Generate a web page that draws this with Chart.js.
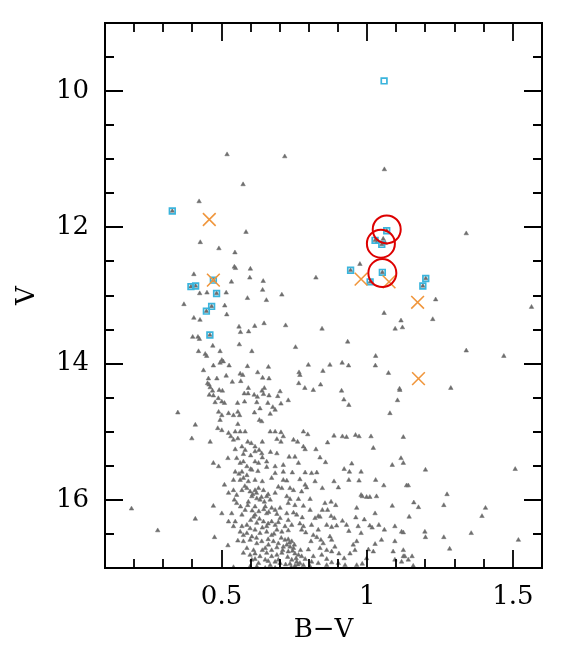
<!DOCTYPE html>
<html>
<head>
<meta charset="utf-8">
<script src="https://cdn.jsdelivr.net/npm/chart.js@4.4.1/dist/chart.umd.min.js"></script>
<style>
  body { margin: 0; background: #fff; }
  #wrap { width: 572px; height: 656px; }
</style>
</head>
<body>
<div id="wrap"><canvas id="cmd" width="572" height="656"></canvas></div>
<script>
// field stars, [B-V, V]
const fieldStars = [
  [0.519,10.93],[0.717,10.96],[1.059,11.15],[0.574,11.37],[0.423,11.62],[0.331,11.76],
  [0.584,12.07],[0.427,12.22],[0.491,12.31],[0.546,12.37],[0.544,12.58],[0.548,12.60],[0.599,12.61],
  [0.405,12.69],[0.597,12.74],[0.534,12.80],[0.643,12.79],[0.824,12.74],[0.472,12.775],
  [0.395,12.87],[0.411,12.86],[0.483,12.97],[0.466,13.16],[0.448,13.23],[0.46,13.58],
  [0.425,12.97],[0.45,12.96],[0.516,12.96],[0.641,12.92],[0.707,12.99],[0.589,13.04],[0.654,13.07],
  [0.371,13.13],[0.511,13.15],[0.405,13.33],[0.426,13.36],[0.518,13.28],[0.56,13.46],[0.614,13.45],
  [0.646,13.41],[0.565,13.54],[0.593,13.53],[0.72,13.44],[0.845,13.49],[0.401,13.61],[0.419,13.61],
  [0.424,13.64],[0.47,13.74],[0.561,13.72],[0.754,13.76],[0.933,13.68],
  [1.067,12.05],[1.027,12.19],[1.05,12.25],[1.055,12.17],[1.035,12.21],[1.062,12.23],
  [0.943,12.63],[1.01,12.80],[1.052,12.66],[1.201,12.75],[1.191,12.86],
  [1.34,12.09],[0.975,12.54],[1.235,13.06],[1.564,13.17],[1.058,13.26],[1.116,13.37],[1.225,13.35],
  [1.096,13.49],[1.121,13.47],[1.34,13.81],[1.469,13.89],[1.287,14.36],[1.111,14.37],
  // 13.8 - 14.55
  [0.421,13.82],[0.444,13.86],[0.449,13.89],[0.495,13.82],[0.501,13.95],[0.495,13.99],[0.506,13.97],
  [0.472,14.03],[0.526,14.03],[0.438,14.10],[0.604,13.82],[0.589,14.04],[0.661,14.05],[0.624,14.13],
  [0.564,14.15],[0.798,14.02],[0.872,14.02],[0.914,13.99],[0.936,14.03],[0.848,14.11],[0.766,14.13],
  [0.769,14.17],[1.029,13.89],[1.028,14.03],[1.073,14.14],
  [0.455,14.22],[0.452,14.29],[0.457,14.31],[0.461,14.35],[0.484,14.22],[0.516,14.18],[0.537,14.27],
  [0.566,14.26],[0.573,14.17],[0.641,14.21],[0.663,14.22],[0.592,14.36],[0.647,14.36],[0.639,14.40],
  [0.458,14.46],[0.472,14.47],[0.492,14.39],[0.503,14.40],[0.469,14.40],[0.489,14.51],[0.765,14.29],
  [0.786,14.36],[0.815,14.39],[0.840,14.31],[0.912,14.40],[0.920,14.53],[0.578,14.44],
  [0.591,14.44],[0.612,14.46],[0.623,14.49],[0.644,14.45],[0.663,14.47],[0.701,14.41],[0.693,14.48],
  [0.729,14.54],[1.112,14.39],[1.104,14.54],
  // 14.55 - 15.3
  [0.478,14.57],[0.501,14.56],[0.510,14.58],[0.555,14.58],[0.579,14.56],[0.621,14.57],[0.632,14.66],
  [0.659,14.58],[0.676,14.64],[0.704,14.59],[0.490,14.71],[0.501,14.76],[0.524,14.73],[0.541,14.76],
  [0.556,14.71],[0.562,14.76],[0.613,14.72],[0.630,14.83],[0.638,14.85],[0.667,14.74],[0.684,14.68],
  [0.495,14.83],[0.556,14.89],[0.350,14.72],[0.410,14.90],[0.398,15.10],[0.461,15.15],[0.487,14.95],
  [0.501,14.98],[0.524,15.02],[0.532,15.07],[0.547,15.00],[0.564,15.00],[0.581,15.00],[0.541,15.12],
  [0.556,15.10],[0.590,15.15],[0.602,15.17],[0.615,15.22],[0.629,15.27],[0.640,15.15],[0.667,15.00],
  [0.684,15.00],[0.704,15.01],[0.712,15.07],[0.690,15.11],[0.704,15.15],[0.547,15.26],[0.570,15.22],
  [0.581,15.27],[0.615,15.29],[0.638,15.32],[0.690,15.32],
  [0.937,14.61],[1.078,14.73],[0.781,15.00],[0.796,15.04],[0.747,15.12],[0.761,15.15],[0.781,15.22],
  [0.787,15.26],[0.824,15.26],[0.864,15.16],[0.886,15.06],[0.915,15.07],[0.929,15.08],[0.960,15.05],
  [0.972,15.07],[1.013,15.07],[1.021,15.24],[1.124,15.08],
  // 15.3 - 16.0
  [0.472,15.46],[0.490,15.51],[0.522,15.39],[0.552,15.39],[0.564,15.46],[0.575,15.44],[0.587,15.51],
  [0.615,15.44],[0.627,15.46],[0.655,15.44],[0.684,15.51],[0.712,15.49],[0.547,15.59],[0.570,15.59],
  [0.587,15.64],[0.604,15.56],[0.541,15.71],[0.564,15.71],[0.575,15.68],[0.592,15.73],[0.615,15.71],
  [0.640,15.73],[0.672,15.68],[0.684,15.61],[0.712,15.59],[0.712,15.71],[0.510,15.78],[0.524,15.90],
  [0.541,15.86],[0.552,15.93],[0.570,15.86],[0.587,15.83],[0.615,15.86],[0.627,15.83],[0.644,15.86],
  [0.655,15.95],[0.604,15.95],[0.621,15.98],[0.684,15.90],[0.695,15.81],[0.707,15.83],
  [0.732,15.37],[0.752,15.37],[0.764,15.46],[0.838,15.38],[0.857,15.45],[0.947,15.47],[0.921,15.55],
  [0.939,15.59],[0.979,15.59],[1.116,15.39],[1.086,15.49],[1.124,15.46],[0.743,15.60],[0.787,15.60],
  [0.809,15.61],[0.827,15.60],[0.724,15.72],[0.769,15.70],[0.787,15.78],[0.821,15.73],[0.886,15.73],
  [0.901,15.82],[0.937,15.71],[0.972,15.72],[1.029,15.71],[1.057,15.79],[0.735,15.83],[0.747,15.86],
  [0.775,15.88],[0.792,15.82],[0.846,15.83],[0.724,15.95],[0.735,15.99],[0.764,15.99],[0.804,15.99],
  [0.983,15.95],[0.998,15.96],[1.009,15.96],[1.032,15.95],[0.979,15.93],
  [0.598,15.88],[0.607,15.92],[0.620,15.90],[0.637,15.96],[0.660,15.92],[0.580,15.80],[0.560,15.62],
  [0.600,15.55],[0.625,15.58],[0.655,15.52],[0.640,15.38],[0.668,15.30],[0.600,15.35],[0.575,15.33],
  [1.20,15.56],[1.135,15.79],[1.141,15.79],[1.508,15.55],[1.274,15.92],
  // 16.0 - 16.5
  [0.632,16.00],[0.647,16.03],[0.667,16.00],[0.544,16.00],[0.552,16.05],[0.592,16.03],[0.615,16.10],
  [0.650,16.10],[0.672,16.12],[0.684,16.15],[0.701,16.12],[0.472,16.09],[0.501,16.20],[0.535,16.20],
  [0.570,16.22],[0.581,16.15],[0.615,16.22],[0.655,16.20],[0.410,16.28],[0.524,16.32],[0.547,16.32],
  [0.541,16.39],[0.570,16.39],[0.587,16.37],[0.610,16.25],[0.621,16.34],[0.644,16.32],[0.655,16.39],
  [0.672,16.32],[0.684,16.37],[0.701,16.27],[0.564,16.47],[0.587,16.49],[0.615,16.44],[0.632,16.49],
  [0.655,16.47],[0.690,16.44],[0.707,16.47],
  [0.590,16.08],[0.605,16.16],[0.628,16.17],[0.645,16.14],[0.662,16.18],[0.690,16.21],[0.600,16.30],
  [0.630,16.28],[0.660,16.35],[0.695,16.33],[0.598,16.42],[0.640,16.41],[0.565,16.10],
  [0.729,16.05],[0.752,16.08],[0.781,16.09],[0.855,16.05],[0.876,16.03],[0.892,16.08],[0.964,16.12],
  [1.086,16.09],[0.724,16.20],[0.747,16.19],[0.758,16.22],[0.777,16.26],[0.804,16.15],[0.832,16.24],
  [0.846,16.15],[0.864,16.15],[0.876,16.24],[0.821,16.27],[0.838,16.25],[0.887,16.27],[0.915,16.31],
  [0.961,16.26],[0.990,16.29],[1.027,16.20],[0.729,16.30],[0.741,16.37],[0.769,16.35],[0.781,16.39],
  [0.809,16.37],[0.861,16.37],[0.929,16.37],[0.969,16.39],[1.009,16.38],[1.017,16.41],[1.040,16.37],
  [1.059,16.44],[1.095,16.39],[1.118,16.47],[0.718,16.39],[0.729,16.45],[0.775,16.44],[0.789,16.48],
  [0.832,16.44],[0.878,16.40],[0.895,16.38],[0.937,16.46],[0.979,16.49],
  [0.191,16.13],[0.281,16.45],[1.263,16.08],[1.16,16.04],[1.176,16.11],[1.144,16.25],[1.198,16.47],
  [1.406,16.12],[1.394,16.24],[1.357,16.49],
  // 16.5 - 17.0
  [0.604,16.54],[0.672,16.52],[0.476,16.55],[0.522,16.67],[0.575,16.61],[0.598,16.59],[0.621,16.64],
  [0.638,16.61],[0.661,16.66],[0.678,16.61],[0.695,16.64],[0.712,16.69],[0.587,16.71],[0.610,16.74],
  [0.650,16.71],[0.672,16.74],[0.575,16.78],[0.598,16.81],[0.615,16.79],[0.632,16.83],[0.655,16.78],
  [0.672,16.83],[0.690,16.81],[0.707,16.78],[0.604,16.88],[0.627,16.93],[0.650,16.88],[0.667,16.96],
  [0.684,16.91],[0.701,16.93],[0.621,16.98],[0.598,16.98],[0.541,16.99],[0.650,17.00],[0.684,17.00],
  [0.680,16.50],[0.705,16.56],[0.620,16.56],[0.660,16.58],[0.690,16.70],[0.640,16.74],[0.615,16.87],
  [0.660,16.90],[0.695,16.88],[0.720,16.95],[0.710,16.74],[0.575,16.52],[0.556,16.60],
  [0.718,16.59],[0.729,16.58],[0.741,16.61],[0.724,16.66],[0.735,16.69],[0.747,16.71],[0.729,16.76],
  [0.752,16.79],[0.764,16.81],[0.775,16.83],[0.741,16.88],[0.758,16.91],[0.769,16.93],[0.781,16.96],
  [0.752,16.97],[0.735,16.94],[0.787,16.87],[0.798,16.73],[0.807,16.61],[0.815,16.52],[0.827,16.55],
  [0.841,16.59],[0.849,16.64],[0.872,16.54],[0.878,16.59],[0.889,16.69],[0.838,16.71],[0.861,16.74],
  [0.878,16.76],[0.903,16.79],[0.815,16.83],[0.844,16.81],[0.861,16.87],[0.878,16.92],[0.901,16.93],
  [0.921,16.86],[0.941,16.79],[0.958,16.74],[0.952,16.66],[0.964,16.61],[1.004,16.73],[1.021,16.76],
  [1.027,16.65],[1.049,16.59],[1.095,16.61],[1.124,16.48],[1.089,16.76],[1.124,16.74],[0.983,16.94],
  [0.964,16.96],[0.924,16.96],[0.861,16.96],[0.832,16.93],[0.809,16.91],[0.804,16.98],[0.998,16.86],
  [1.095,16.88],[1.118,16.91],[1.124,16.83],
  [0.733,16.63],[0.744,16.75],[0.756,16.86],[0.762,16.95],[0.727,16.84],[0.771,16.74],[0.739,16.99],
  [0.750,16.66],
  [1.20,16.55],[1.263,16.55],[1.283,16.72],[1.154,16.83],[1.141,16.88],[1.129,16.83],[1.158,16.97],
  [1.519,16.59]
];

// stars marked with open squares
const squareStars = [
  [1.058,9.85],[0.331,11.76],[0.472,12.775],[0.395,12.87],[0.411,12.86],[0.483,12.97],
  [0.466,13.16],[0.448,13.23],[0.46,13.58],[1.067,12.05],[1.027,12.19],[1.05,12.25],
  [0.943,12.63],[1.01,12.80],[1.052,12.66],[1.201,12.75],[1.191,12.86]
];

// stars marked with crosses
const crossStars = [
  [0.458,11.885],[0.472,12.775],[0.979,12.76],[1.075,12.80],[1.173,13.10],[1.176,14.22]
];

// stars marked with big circles
const circleStars = [
  [1.067,12.03],[1.047,12.24],[1.052,12.67]
];

const xMin = 0.1, xMax = 1.6, yMin = 9, yMax = 17;
const xLabels = [0.5, 1, 1.5];
const yLabels = [10, 12, 14, 16];

const toXY = arr => arr.map(p => ({ x: p[0], y: p[1] }));

// box frame with inward ticks on all four sides
const frameTicks = {
  id: 'frameTicks',
  afterDraw(chart) {
    const { ctx, chartArea: a, scales: { x, y } } = chart;
    ctx.save();
    ctx.strokeStyle = '#000';
    ctx.lineWidth = 2;
    ctx.strokeRect(a.left, a.top, a.right - a.left, a.bottom - a.top);
    ctx.lineWidth = 1.8;
    ctx.beginPath();
    for (let i = 2; i <= 15; i++) {
      const px = Math.round(x.getPixelForValue(i / 10));
      const len = i % 5 === 0 ? 18 : 9;
      ctx.moveTo(px, a.bottom); ctx.lineTo(px, a.bottom - len);
      ctx.moveTo(px, a.top); ctx.lineTo(px, a.top + len);
    }
    for (let i = 19; i <= 33; i++) {
      const py = Math.round(y.getPixelForValue(i / 2));
      const len = i % 4 === 0 ? 18 : 9;
      ctx.moveTo(a.left, py); ctx.lineTo(a.left + len, py);
      ctx.moveTo(a.right, py); ctx.lineTo(a.right - len, py);
    }
    ctx.stroke();
    ctx.restore();
  }
};

Chart.defaults.font.family = "'DejaVu Serif', serif";
Chart.defaults.color = '#000';

new Chart(document.getElementById('cmd'), {
  type: 'scatter',
  data: {
    datasets: [
      {
        data: toXY(circleStars), order: 1,
        pointStyle: 'circle', pointRadius: 14, borderWidth: 2,
        borderColor: '#dd0000', backgroundColor: 'rgba(0,0,0,0)'
      },
      {
        data: toXY(crossStars), order: 2,
        pointStyle: 'crossRot', pointRadius: 9, borderWidth: 1.6,
        borderColor: '#f0963c', backgroundColor: '#f0963c'
      },
      {
        data: toXY(squareStars), order: 3,
        pointStyle: 'rect', pointRadius: 4, borderWidth: 1.7,
        borderColor: '#3ab4dc', backgroundColor: 'rgba(0,0,0,0)'
      },
      {
        data: toXY(fieldStars), order: 4,
        pointStyle: 'triangle', pointRadius: 2.6, borderWidth: 0.5,
        borderColor: '#6e6e6e', backgroundColor: '#6e6e6e'
      }
    ]
  },
  options: {
    responsive: false,
    animation: false,
    events: [],
    layout: { padding: { left: 0, right: 30, top: 23, bottom: 0 } },
    plugins: { legend: { display: false }, tooltip: { enabled: false } },
    scales: {
      x: {
        type: 'linear', min: xMin, max: xMax,
        grid: { display: false, drawTicks: false },
        border: { display: false },
        afterFit: s => { s.height = 88; s.paddingLeft = 0; s.paddingRight = 0; },
        afterBuildTicks: s => { s.ticks = xLabels.map(v => ({ value: v })); },
        ticks: { padding: 14, font: { size: 26 }, callback: v => String(v), maxRotation: 0 },
        title: { display: true, text: 'B\u2212V', font: { size: 26 }, padding: { top: 0, bottom: 10 } }
      },
      y: {
        type: 'linear', min: yMin, max: yMax, reverse: true,
        grid: { display: false, drawTicks: false },
        border: { display: false },
        afterFit: s => { s.width = 105; s.paddingTop = 0; s.paddingBottom = 0; },
        afterBuildTicks: s => { s.ticks = yLabels.map(v => ({ value: v })); },
        ticks: { padding: 16, font: { size: 26 }, callback: v => String(v) },
        title: { display: true, text: 'V', font: { size: 26 }, padding: { top: 12, bottom: 0 } }
      }
    }
  },
  plugins: [frameTicks]
});
</script>
</body>
</html>
